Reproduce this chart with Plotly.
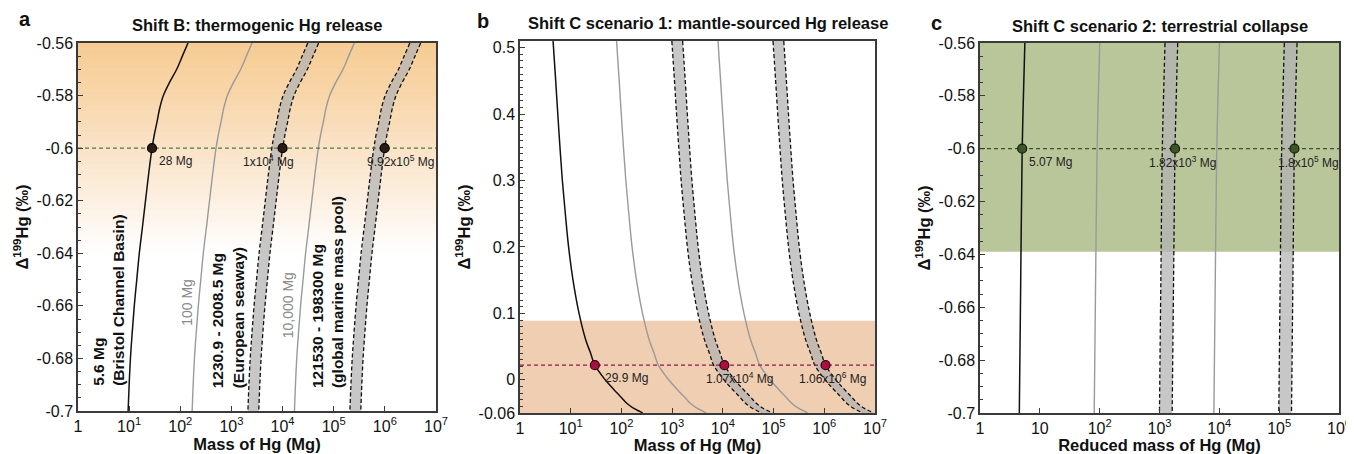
import numpy as np
import plotly.graph_objects as go

# ---------------- data ----------------
# Reservoir sizes (Mg) used for the scaled curves
reservoirs = [5.6, 100.0, 1230.9, 2008.5, 10000.0, 121530.0, 198300.0]
base_reservoir = 5.6

# Panel a: base curve (5.6 Mg reservoir)
a_delta = [-0.56, -0.565, -0.57, -0.575, -0.58, -0.585, -0.59, -0.595, -0.60,
           -0.61, -0.62, -0.63, -0.64, -0.65, -0.66, -0.67, -0.68, -0.69, -0.70]
a_mass = [141.6, 109.6, 85.1, 61.7, 46.7, 39.4, 35.1, 31.0, 28.0,
          24.0, 20.9, 18.2, 15.8, 14.1, 12.6, 11.5, 10.6, 10.0, 9.55]

# Panel b: base curve (5.6 Mg reservoir)
b_delta = [0.51, 0.45, 0.40, 0.35, 0.30, 0.25, 0.20, 0.15, 0.10, 0.06, 0.04,
           0.022, 0.0, -0.015, -0.025, -0.035, -0.042, -0.048, -0.05]
b_mass = [4.49, 5.06, 5.56, 6.14, 6.84, 7.83, 9.08, 11.1, 14.6, 19.8, 24.7,
          29.9, 47.9, 71.4, 95.5, 126.0, 166.0, 234.0, 263.0]

# Panel c: base curve (5.6 Mg reservoir)
c_delta = [-0.56, -0.58, -0.60, -0.65, -0.70]
c_mass = [5.62, 5.32, 5.07, 4.79, 4.54]

# Highlighted points
a_level = -0.60
a_dots = [28.0, 1.0e4, 9.92e5]
a_dot_labels = ["28 Mg", "1x10<sup>4</sup> Mg", "9.92x10<sup>5</sup> Mg"]
b_level = 0.022
b_dots = [29.9, 1.07e4, 1.06e6]
b_dot_labels = ["29.9 Mg", "1.07x10<sup>4</sup> Mg", "1.06x10<sup>6</sup> Mg"]
c_level = -0.60
c_dots = [5.07, 1.82e3, 1.8e5]
c_dot_labels = ["5.07 Mg", "1.82x10<sup>3</sup> Mg", "1.8x10<sup>5</sup> Mg"]

# Tick labels
x_ticks_ab = [1, 10, 1e2, 1e3, 1e4, 1e5, 1e6, 1e7]
x_ticktext_ab = ["1", "10<sup>1</sup>", "10<sup>2</sup>", "10<sup>3</sup>", "10<sup>4</sup>",
                 "10<sup>5</sup>", "10<sup>6</sup>", "10<sup>7</sup>"]
x_ticks_c = [1, 10, 1e2, 1e3, 1e4, 1e5, 1e6]
x_ticktext_c = ["1", "10", "10<sup>2</sup>", "10<sup>3</sup>", "10<sup>4</sup>",
                "10<sup>5</sup>", "10<sup>6</sup>"]
y_ticks_ac = [-0.56, -0.58, -0.60, -0.62, -0.64, -0.66, -0.68, -0.70]
y_ticktext_ac = ["-0.56", "-0.58", "-0.6", "-0.62", "-0.64", "-0.66", "-0.68", "-0.7"]
y_ticks_b = [-0.05, 0.0, 0.1, 0.2, 0.3, 0.4, 0.5]
y_ticktext_b = ["-0.06", "0", "0.1", "0.2", "0.3", "0.4", "0.5"]

# Shaded ranges
b_band_top = 0.089
c_band_bottom = -0.639

# ---------------- figure ----------------
# The page body has an 8px margin, so the figure is drawn 8px smaller and
# every page-pixel position is offset by it.
OFF = 8
W, H = 1354 - OFF, 454 - OFF
FONT = "Liberation Sans, Arial, Helvetica, sans-serif"
fig = go.Figure()


def px_x(p):
    return (p - OFF) / W


def px_y(p):
    return 1 - (p - OFF) / H


def add_curves(delta, mass, xa, ya):
    d = np.array(delta)
    m = np.array(mass)
    ratios = [r / base_reservoir for r in reservoirs]
    band_fill = "rgba(178,178,178,0.72)"
    for lo, hi in [(ratios[2], ratios[3]), (ratios[5], ratios[6])]:
        fig.add_trace(go.Scatter(
            x=np.concatenate([m * lo, (m * hi)[::-1]]),
            y=np.concatenate([d, d[::-1]]),
            fill="toself", fillcolor=band_fill, mode="lines",
            line=dict(width=0), xaxis=xa, yaxis=ya, hoverinfo="skip"))
        for r in (lo, hi):
            fig.add_trace(go.Scatter(
                x=m * r, y=d, mode="lines", line_shape="spline",
                line=dict(color="#111", width=1.3, dash="4px,2.5px"),
                xaxis=xa, yaxis=ya))
    for r in (ratios[1], ratios[4]):
        fig.add_trace(go.Scatter(
            x=m * r, y=d, mode="lines", line_shape="spline",
            line=dict(color="#9a9a9a", width=1.4), xaxis=xa, yaxis=ya))
    fig.add_trace(go.Scatter(
        x=m * ratios[0], y=d, mode="lines", line_shape="spline",
        line=dict(color="#111", width=1.5), xaxis=xa, yaxis=ya))


def add_level(level, xticks, color, xa, ya):
    fig.add_trace(go.Scatter(
        x=[xticks[0], xticks[-1]], y=[level, level], mode="lines",
        line=dict(color=color, width=1.3, dash="4px,3px"),
        xaxis=xa, yaxis=ya, cliponaxis=False))


def add_dots(level, dots, labels, shifts, fill, edge, xa, ya):
    fig.add_trace(go.Scatter(
        x=dots, y=[level] * len(dots), mode="markers",
        marker=dict(size=9, color=fill, line=dict(color=edge, width=1.2)),
        xaxis=xa, yaxis=ya))
    for v, t, s in zip(dots, labels, shifts):
        fig.add_annotation(x=np.log10(v), y=level, xref=xa, yref=ya,
                           text=t, showarrow=False, xanchor="left", yanchor="middle",
                           xshift=s, yshift=-13,
                           font=dict(family=FONT, size=12, color="#222"))


# Panel a background gradient (orange fading to white)
stops = [(-0.56, (246, 203, 146)), (-0.58, (248, 214, 170)), (-0.60, (250, 227, 199)),
         (-0.62, (252, 240, 226)), (-0.64, (255, 255, 255))]
nstrip = 40
for i in range(nstrip):
    y0 = -0.56 - i * 0.08 / nstrip
    y1 = y0 - 0.08 / nstrip
    ym = (y0 + y1) / 2
    for k in range(len(stops) - 1):
        if stops[k][0] >= ym >= stops[k + 1][0]:
            t = (stops[k][0] - ym) / (stops[k][0] - stops[k + 1][0])
            c = [round(stops[k][1][j] + t * (stops[k + 1][1][j] - stops[k][1][j])) for j in range(3)]
            break
    fig.add_shape(type="rect", xref="x domain", yref="y", x0=0, x1=1, y0=y0, y1=y1 - 0.0002,
                  fillcolor=f"rgb({c[0]},{c[1]},{c[2]})", line=dict(width=0), layer="below")

fig.add_shape(type="rect", xref="x2 domain", yref="y2", x0=0, x1=1, y0=y_ticks_b[0], y1=b_band_top,
              fillcolor="rgb(240,206,177)", line=dict(width=0), layer="below")
fig.add_shape(type="rect", xref="x3 domain", yref="y3", x0=0, x1=1, y0=c_band_bottom, y1=y_ticks_ac[0],
              fillcolor="rgb(185,198,154)", line=dict(width=0), layer="below")

add_curves(a_delta, a_mass, "x", "y")
add_level(a_level, x_ticks_ab, "#567a3a", "x", "y")
add_dots(a_level, a_dots, a_dot_labels, [5, -42, -20], "#2a1c15", "#000", "x", "y")

add_curves(b_delta, b_mass, "x2", "y2")
add_level(b_level, x_ticks_ab, "#8c1a4f", "x2", "y2")
add_dots(b_level, b_dots, b_dot_labels, [8, -20, -29], "#a8123f", "#3a0010", "x2", "y2")

add_curves(c_delta, c_mass, "x3", "y3")
add_level(c_level, x_ticks_c, "#3e4e2e", "x3", "y3")
add_dots(c_level, c_dots, c_dot_labels, [5, -28, -18], "#3d5628", "#141c0c", "x3", "y3")

# Rotated labels in panel a
rot_labels = [
    (0.606, -0.691, "<b>5.6 Mg<br>(Bristol Channel Basin)</b>", "#111", "bottom", 15.5),
    (2.13, -0.6585, "100 Mg", "#8a8a8a", "middle", 14),
    (2.93, -0.692, "<b>1230.9 - 2008.5 Mg<br>(European seaway)</b>", "#111", "bottom", 15.5),
    (4.11, -0.6597, "10,000 Mg", "#8a8a8a", "middle", 14),
    (4.89, -0.692, "<b>121530 - 198300 Mg<br>(global marine mass pool)</b>", "#111", "bottom", 15.5),
]
for lx, ly, txt, col, ya, fs in rot_labels:
    fig.add_annotation(x=lx, y=ly, xref="x", yref="y", text=txt, showarrow=False,
                       textangle=-90, xanchor="center", yanchor=ya, align="left",
                       font=dict(family=FONT, size=fs, color=col))

titles = [(257, 25, "<b>Shift B: thermogenic Hg release</b>"),
          (708, 23, "<b>Shift C scenario 1: mantle-sourced Hg release</b>"),
          (1160, 26, "<b>Shift C scenario 2: terrestrial collapse</b>")]
for x, y, t in titles:
    fig.add_annotation(x=px_x(x), y=px_y(y), xref="paper", yref="paper", text=t, showarrow=False,
                       xanchor="center", yanchor="middle", font=dict(family=FONT, size=16.5, color="#111"))
for x, y, t in [(25, 19, "a"), (483, 21, "b"), (936, 23, "c")]:
    fig.add_annotation(x=px_x(x), y=px_y(y), xref="paper", yref="paper", text=f"<b>{t}</b>",
                       showarrow=False, xanchor="center", yanchor="middle",
                       font=dict(family=FONT, size=20, color="#111"))

axis_common = dict(showline=True, linecolor="#3a3a3a", linewidth=1.5, mirror=True,
                   ticks="inside", ticklen=5, tickwidth=1.2, tickcolor="#3a3a3a",
                   showgrid=False, zeroline=False, fixedrange=True, automargin=False,
                   tickfont=dict(family=FONT, size=16, color="#111"))
ytitle = dict(text="<b>Δ<sup>199</sup>Hg (‰)</b>", font=dict(family=FONT, size=16.5, color="#111"), standoff=4)


def xtitle(t):
    return dict(text=f"<b>{t}</b>", font=dict(family=FONT, size=16.5, color="#111"), standoff=1)


fig.update_layout(
    width=W, height=H, margin=dict(l=0, r=0, t=0, b=0, pad=0, autoexpand=False),
    paper_bgcolor="white", plot_bgcolor="white", showlegend=False,
    font=dict(family=FONT),
    xaxis=dict(axis_common, type="log", range=[0, 7], tickvals=x_ticks_ab, ticktext=x_ticktext_ab,
               domain=[px_x(78), px_x(436)], anchor="y", title=xtitle("Mass of Hg (Mg)")),
    yaxis=dict(axis_common, range=[-0.70, -0.56], tickvals=y_ticks_ac, ticktext=y_ticktext_ac,
               domain=[px_y(411), px_y(43)], anchor="x", title=ytitle,
               minor=dict(ticks="inside", ticklen=3, dtick=0.005, tickcolor="#3a3a3a")),
    xaxis2=dict(axis_common, type="log", range=[0, 7], tickvals=x_ticks_ab, ticktext=x_ticktext_ab,
                domain=[px_x(520), px_x(875)], anchor="y2", title=xtitle("Mass of Hg (Mg)")),
    yaxis2=dict(axis_common, range=[-0.05, 0.51], tickvals=y_ticks_b, ticktext=y_ticktext_b,
                domain=[px_y(413), px_y(41)], anchor="x2", title=ytitle,
                minor=dict(ticks="inside", ticklen=3, dtick=0.01, tickcolor="#3a3a3a")),
    xaxis3=dict(axis_common, type="log", range=[0, 6], tickvals=x_ticks_c, ticktext=x_ticktext_c,
                domain=[px_x(980), px_x(1339)], anchor="y3", title=xtitle("Reduced mass of Hg (Mg)")),
    yaxis3=dict(axis_common, range=[-0.70, -0.56], tickvals=y_ticks_ac, ticktext=y_ticktext_ac,
                domain=[px_y(413), px_y(43)], anchor="x3", title=ytitle,
                minor=dict(ticks="inside", ticklen=3, dtick=0.005, tickcolor="#3a3a3a")),
)

fig.write_html("out.html")
